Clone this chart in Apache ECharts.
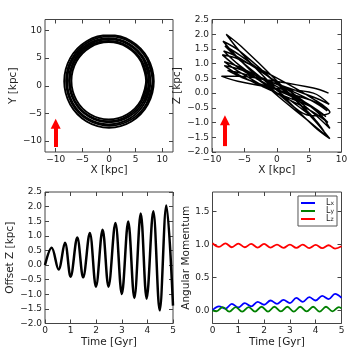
<!DOCTYPE html>
<html><head><meta charset="utf-8">
<script src="https://cdn.jsdelivr.net/npm/echarts@6/dist/echarts.min.js"></script>
<style>html,body{margin:0;padding:0;background:#fff}#c{width:360px;height:360px}</style>
</head><body><div id="c"></div>
<script>
// ---- Top-left: orbit X vs Y [kpc], one array per loop (12 points, 30 deg apart)
const loopsX = [
  [8.4,7.27,4.2,0,-4.2,-7.27,-8.4,-7.27,-4.2,0,4.2,7.27],
  [8.15,7.06,4.1,0.05,-4.0,-6.96,-8.05,-6.96,-4.0,0.05,4.1,7.06],
  [7.75,6.7,3.85,-0.05,-3.95,-6.8,-7.85,-6.8,-3.95,-0.05,3.85,6.7],
  [7.5,6.5,3.75,0,-3.75,-6.5,-7.5,-6.5,-3.75,0,3.75,6.5],
  [7.15,6.18,3.53,-0.1,-3.73,-6.38,-7.35,-6.38,-3.73,-0.1,3.53,6.18],
  [6.95,6.01,3.45,-0.05,-3.55,-6.11,-7.05,-6.11,-3.55,-0.05,3.45,6.01]
];
const loopsY = [
  [0.8,5.0,8.07,9.2,8.07,5.0,0.8,-3.4,-6.47,-7.6,-6.47,-3.4],
  [0.85,4.9,7.86,8.95,7.86,4.9,0.85,-3.2,-6.16,-7.25,-6.16,-3.2],
  [0.8,4.7,7.55,8.6,7.55,4.7,0.8,-3.1,-5.95,-7.0,-5.95,-3.1],
  [0.9,4.65,7.4,8.4,7.4,4.65,0.9,-2.85,-5.6,-6.6,-5.6,-2.85],
  [0.85,4.48,7.13,8.1,7.13,4.48,0.85,-2.78,-5.43,-6.4,-5.43,-2.78],
  [0.9,4.4,6.96,7.9,6.96,4.4,0.9,-2.6,-5.16,-6.1,-5.16,-2.6]
];
const xyTicks = [-10,-5,0,5,10];
const arrowTL = {x:-10, from:-11.1, to:-6.9};

// ---- Top-right: orbit X vs Z [kpc]
const xzX = [8.0,5.66,-0.25,-6.01,-8.5,-6.01,-0.25,5.66,
  8.1,5.73,0.25,-5.37,-7.6,-5.37,0.25,5.73,
  7.8,5.51,-0.15,-5.73,-8.1,-5.73,-0.15,5.51,
  7.6,5.37,-0.25,-5.73,-8.1,-5.73,-0.25,5.37,
  7.9,5.59,-0.15,-5.8,-8.2,-5.8,-0.15,5.59,
  8.2,5.8,-0.1,-5.94,-8.4,-5.94,-0.1,5.8,
  8.2,5.8,0.1,-5.66,-8.0,-5.66,0.1,5.8,
  7.3,5.16,-0.5,-5.87,-8.3,-5.87,-0.5,5.16,
  8.2,5.8,0.2,-5.51,-7.8,-5.51,0.2,5.8,8.2];
const xzZ = [0.0,0.17,0.405,0.571,0.57,0.40,0.165,0.0,
  -0.38,-0.14,0.295,0.67,0.77,0.53,0.095,-0.28,
  -0.6,-0.27,0.315,0.81,0.93,0.60,0.015,-0.48,
  -0.8,-0.44,0.255,0.88,1.07,0.71,0.015,-0.61,
  -1.0,-0.52,0.395,1.20,1.43,0.95,0.035,-0.77,
  -0.65,-0.22,0.525,1.16,1.3,0.87,0.125,-0.51,
  -1.2,-0.71,0.32,1.28,1.6,1.11,0.08,-0.88,
  -1.3,-0.71,0.43,1.45,1.76,1.17,0.03,-0.99,
  -1.55,-0.92,0.375,1.59,2.0,1.37,0.075,-1.14,-1.55];
const arrowTR = {x:-8, from:-1.8, to:-0.92};

// ---- Bottom-left: offset Z vs time
const tBL = [0,0.26,0.53,0.78,1.0,1.26,1.49,1.75,1.99,2.25,2.48,2.75,3.0,3.25,3.49,3.74,3.97,4.23,4.48,4.74,5.0];
const zBL = [0,0.59,-0.15,0.76,-0.40,0.94,-0.42,1.10,-0.74,1.21,-0.74,1.44,-0.99,1.49,-1.13,1.76,-1.15,1.84,-1.55,2.04,-1.39];

// ---- Bottom-right: angular momentum vs time
const tLx = [0,0.25,0.5,0.75,1.0,1.25,1.5,1.75,2.0,2.25,2.5,2.75,3.0,3.25,3.5,3.75,4.0,4.25,4.5,4.75,5.0];
const vLx = [0,0.06,0.025,0.10,0.045,0.11,0.06,0.13,0.085,0.15,0.10,0.16,0.11,0.19,0.13,0.20,0.15,0.22,0.17,0.25,0.19];
const tLy = [0,0.15,0.4,0.65,0.9,1.15,1.4,1.65,1.9,2.15,2.4,2.65,2.9,3.15,3.4,3.65,3.9,4.15,4.4,4.65,4.9,5.0];
const vLy = [0,-0.015,0.05,-0.02,0.05,-0.02,0.05,-0.02,0.055,-0.02,0.055,-0.015,0.055,-0.02,0.055,-0.015,0.055,-0.02,0.055,-0.015,0.05,0.03];
const tLz = [0,0.25,0.5,0.75,1.0,1.25,1.5,1.75,2.0,2.25,2.5,2.75,3.0,3.25,3.5,3.75,4.0,4.25,4.5,4.75,5.0];
const vLz = [1.02,0.965,1.02,0.96,1.015,0.96,1.01,0.955,1.01,0.955,1.0,0.95,1.0,0.95,1.0,0.945,0.995,0.945,0.99,0.94,0.975];
const lNames = ['x','y','z'];
const lColors = ['#0000ff','#008000','#ff0000'];

const pairs = (a,b) => a.map((v,i)=>[v,b[i]]);
const FONT = 'DejaVu Sans';
const TXT = '#222';
const FR = '#444';
const fmt1 = v => (Math.round(v*10)/10).toFixed(1).replace('-', '\u2212');
const fmt0 = v => String(Math.round(v)).replace('-', '\u2212');

function axis(g, pos, cfg, main) {
  const a = {
    type:'value', gridIndex:g, position:pos, min:cfg.min, max:cfg.max,
    axisLine:{show:false, onZero:false}, splitLine:{show:false},
    axisTick:{show:true, inside:true, length:4, lineStyle:{color:FR, width:1}},
    axisLabel:{show:main, fontFamily:FONT, fontSize:9, color:TXT, margin:3, formatter:cfg.fmt, hideOverlap:false}
  };
  if (cfg.interval != null) a.interval = cfg.interval;
  if (cfg.ticks) {
    a.axisTick.customValues = cfg.ticks;
    a.axisLabel.customValues = cfg.ticks;
  }
  if (main) {
    a.name = cfg.name; a.nameLocation = 'middle'; a.nameGap = cfg.gap;
    a.nameTextStyle = {fontFamily:FONT, fontSize:10.5, color:TXT};
  }
  return a;
}
const grids = [
  {left:45, top:19.5, width:128, height:132.5},
  {left:212, top:19.5, width:129.5, height:132.5},
  {left:45, top:192, width:128, height:131.5},
  {left:212.5, top:192, width:129, height:131.5}
].map(g => Object.assign(g, {show:true, borderColor:FR, borderWidth:1, backgroundColor:'transparent'}));

const xc = [
  {min:-12,max:12,ticks:xyTicks,fmt:fmt0,name:'X [kpc]',gap:9},
  {min:-10,max:10,interval:5,fmt:fmt0,name:'X [kpc]',gap:9},
  {min:0,max:5,interval:1,fmt:fmt0,name:'Time [Gyr]',gap:9},
  {min:0,max:5,interval:1,fmt:fmt0,name:'Time [Gyr]',gap:9}
];
const yc = [
  {min:-12,max:12,ticks:xyTicks,fmt:fmt0,name:'Y [kpc]',gap:22},
  {min:-2,max:2.5,interval:0.5,fmt:fmt1,name:'Z [kpc]',gap:22},
  {min:-2,max:2.5,interval:0.5,fmt:fmt1,name:'Offset Z [kpc]',gap:24},
  {min:-0.2,max:1.8,ticks:[0,0.5,1,1.5],fmt:fmt1,name:'Angular Momentum',gap:18}
];
const xAxis = [], yAxis = [];
for (let g=0; g<4; g++) {
  xAxis.push(axis(g, 'bottom', xc[g], true));
  xAxis.push(axis(g, 'top', xc[g], false));
  yAxis.push(axis(g, 'left', yc[g], true));
  yAxis.push(axis(g, 'right', yc[g], false));
}
function arrowML(a) {
  return {silent:true, animation:false, symbol:['none','triangle'], symbolSize:[10,10],
    label:{show:false}, emphasis:{disabled:true},
    lineStyle:{color:'#ff0000', width:4, type:'solid', opacity:1},
    itemStyle:{color:'#ff0000'},
    data:[[{coord:[a.x,a.from]},{coord:[a.x,a.to]}]]};
}
// close each loop by wrapping around its own points
const ring = (lx, ly) => {
  const n = lx.length, idx = [n-1, ...lx.map((_,i)=>i), 0, 1];
  return idx.map(i => [lx[i], ly[i]]);
};
const series = [];
loopsX.forEach((lx, k) => series.push({type:'line', xAxisIndex:0, yAxisIndex:0,
  data:ring(lx, loopsY[k]), smooth:0.35, symbol:'none', lineStyle:{color:'#000', width:1.9},
  markLine: k === 0 ? arrowML(arrowTL) : undefined}));
series.push({type:'line', xAxisIndex:2, yAxisIndex:2, data:pairs(xzX,xzZ), smooth:0.35, symbol:'none',
   lineStyle:{color:'#000', width:1.5}, markLine:arrowML(arrowTR)});
series.push({type:'line', xAxisIndex:4, yAxisIndex:4, data:pairs(tBL,zBL), smooth:0.36, symbol:'none',
   lineStyle:{color:'#000', width:2.5}});
const lt = [tLx,tLy,tLz], lv = [vLx,vLy,vLz];
for (let i=0;i<3;i++) series.push({type:'line', name:lNames[i], xAxisIndex:6, yAxisIndex:6,
  data:pairs(lt[i],lv[i]), smooth:0.36, symbol:'none', showSymbol:false, color:lColors[i],
  lineStyle:{color:lColors[i], width:1.8}});

const chart = echarts.init(document.getElementById('c'), null, {renderer:'canvas'});
chart.setOption({
  animation:false,
  grid:grids, xAxis, yAxis, series,
  legend:{orient:'vertical', right:23, top:196, icon:'rect', itemWidth:14, itemHeight:2, itemGap:0,
    padding:[3,3,3,3], borderColor:'#555', borderWidth:1, backgroundColor:'#fff',
    data:lNames,
    formatter: n => '{l|L}{s|' + n + '}',
    textStyle:{fontFamily:FONT, fontSize:7, lineHeight:7, color:TXT,
      rich:{l:{fontFamily:FONT, fontSize:8, lineHeight:7, color:TXT, padding:[0,0,0,6]}, s:{fontFamily:FONT, fontSize:6, lineHeight:7, color:TXT, verticalAlign:'bottom'}}}}
});
</script></body></html>
